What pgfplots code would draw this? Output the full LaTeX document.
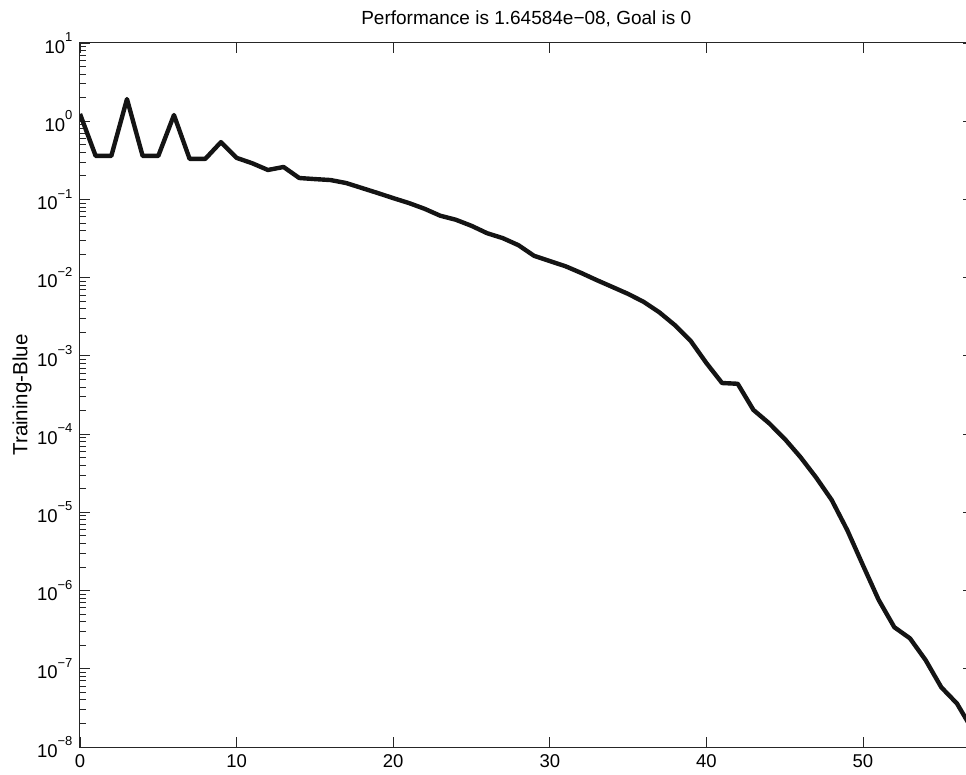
\documentclass[border=0pt]{standalone}
\usepackage{fontspec}
\setmainfont{Liberation Sans}
\usepackage{pgfplots}
\pgfplotsset{compat=1.18}
\usetikzlibrary{calc}
% MATLAB-style tick label 10^n in the text font
\newcommand{\ep}[1]{10\raisebox{0.62em}{\fontsize{13}{13}\selectfont #1}}

\begin{document}
\begin{tikzpicture}
\begin{axis}[
  scale only axis, width=892.6pt, height=704pt,
  ymode=log, xmin=0, xmax=57, ymin=1e-8, ymax=1e1,
  xtick={0,10,20,30,40,50},
  ytick={1e-8,1e-7,1e-6,1e-5,1e-4,1e-3,1e-2,1e-1,1e0,1e1},
  yticklabels={\ep{−8},\ep{−7},\ep{−6},\ep{−5},\ep{−4},\ep{−3},\ep{−2},\ep{−1},\ep{0},\ep{1}},
  tick align=inside, major tick length=10pt, minor tick length=6pt,
  axis line style={line width=1pt, black!85},
  every tick/.style={line width=0.9pt, black!85},
  ticklabel style={font=\fontsize{18.5}{18.5}\selectfont},
  yticklabel style={xshift=-4pt},
  xticklabel style={yshift=-4pt},
  /pgf/number format/assume math mode=true,
  title={Performance is 1.64584e−08, Goal is 0},
  title style={font=\fontsize{19}{19}\selectfont, at={(axis description cs:0.5,1)}, anchor=base, yshift=12pt},
  ylabel={Training-Blue},
  ylabel style={font=\fontsize{20.5}{20.5}\selectfont, at={(axis description cs:-0.065,0.5)}, anchor=center},
]
\addplot[line width=4.4pt, black!92, line join=round] coordinates {
  (0,1.24) (1,0.36) (2,0.36) (3,1.92) (4,0.36) (5,0.36) (6,1.2) (7,0.33) (8,0.33) (9,0.54)
  (10,0.34) (11,0.29) (12,0.238) (13,0.26) (14,0.188) (15,0.182) (16,0.177) (17,0.162) (18,0.14) (19,0.121)
  (20,0.104) (21,0.09) (22,0.076) (23,0.062) (24,0.055) (25,0.046) (26,0.037) (27,0.032) (28,0.026) (29,0.019)
  (30,0.0163) (31,0.014) (32,0.0115) (33,0.0093) (34,0.0076) (35,0.0062) (36,0.0049) (37,0.0036) (38,0.00246) (39,0.00155)
  (40,0.00081) (41,0.00045) (42,0.00044) (43,0.000204) (44,0.000138) (45,8.7e-5) (46,5.1e-5) (47,2.8e-5) (48,1.44e-5) (49,5.9e-6)
  (50,2.1e-6) (51,7.6e-7) (52,3.4e-7) (53,2.45e-7) (54,1.29e-7) (55,5.8e-8) (56,3.6e-8) (57,1.64584e-8)
};
\coordinate (bl) at (rel axis cs:0,0);
\end{axis}
\pgfresetboundingbox
\path (bl) ++(-80pt,-28pt) rectangle ++(966pt,775pt);
\end{tikzpicture}
\end{document}
